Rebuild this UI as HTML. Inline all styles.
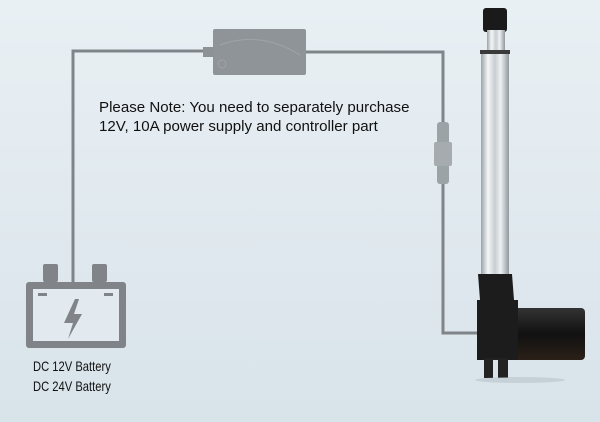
<!DOCTYPE html>
<html><head><style>
body{margin:0}
#c{position:relative;width:600px;height:422px;overflow:hidden;background:linear-gradient(180deg,#e9f0f4 0%,#dfe8ee 60%,#d8e3ea 100%);font-family:"Liberation Sans",sans-serif}
.t{position:absolute;left:99px;top:98px;font-size:15.1px;line-height:19px;color:#111}
.b{position:absolute;left:33px;font-family:"Liberation Sans Narrow","Liberation Sans",sans-serif;font-size:14px;color:#111;transform:scaleX(.8);transform-origin:left}
</style></head><body><div id="c">
<svg width="600" height="422" style="position:absolute;left:0;top:0">
<defs>
<linearGradient id="tube" x1="0" x2="1"><stop offset="0" stop-color="#9aa3a8"/><stop offset=".25" stop-color="#f4f6f7"/><stop offset=".5" stop-color="#c7cdd1"/><stop offset=".7" stop-color="#eef1f3"/><stop offset="1" stop-color="#8f989d"/></linearGradient>
<linearGradient id="mot" x1="0" y1="0" x2="0" y2="1"><stop offset="0" stop-color="#333"/><stop offset=".5" stop-color="#111"/><stop offset="1" stop-color="#2a2018"/></linearGradient>
</defs>
<g fill="none" stroke="#808589" stroke-width="3">
<path d="M73 282 V51 H213"/>
<path d="M306 52 H443 V333 H480"/>
</g>
<rect x="437" y="122" width="12" height="62" rx="3" fill="#9ca3a7"/>
<rect x="434" y="142" width="18" height="24" rx="2" fill="#a5abaf"/>
<rect x="203" y="47" width="12" height="10" fill="#8d9296"/>
<rect x="213" y="29" width="93" height="46" rx="2" fill="#8f9498"/>
<path d="M220 45 Q260 30 300 55" stroke="#9fa4a8" fill="none"/>
<circle cx="222" cy="64" r="4" fill="none" stroke="#9fa4a8"/>
<g fill="#808488">
<rect x="43" y="264" width="15" height="18" rx="2"/><rect x="92" y="264" width="15" height="18" rx="2"/>
<rect x="26" y="282" width="100" height="66" rx="3"/>
</g>
<rect x="33" y="289" width="86" height="52" fill="#e2eaef"/>
<rect x="38" y="293" width="9" height="3" fill="#808488"/><rect x="104" y="293" width="9" height="3" fill="#808488"/>
<path d="M75 299 L64 323 H73 L68 339 L82 314 H74 L79 299Z" fill="#808488"/>
<rect x="483" y="8" width="24" height="24" rx="3" fill="#1a1a1a"/>
<rect x="487" y="30" width="18" height="22" fill="url(#tube)"/>
<rect x="480" y="50" width="30" height="4" fill="#3a3a3a"/>
<rect x="481" y="54" width="28" height="222" fill="url(#tube)"/>
<rect x="513" y="308" width="72" height="52" rx="4" fill="url(#mot)"/>
<path d="M478 274 H512 L514 300 H518 V360 H477 V300 L480 300Z" fill="#1c1c1c"/>
<rect x="484" y="358" width="24" height="20" fill="#222"/>
<rect x="493" y="360" width="5" height="18" fill="#d8e2e8"/>
<ellipse cx="520" cy="380" rx="45" ry="3" fill="#b8c3ca" opacity=".6"/>
</svg>
<div class="t">Please Note: You need to separately purchase<br>12V, 10A power supply and controller part</div>
<div class="b" style="top:358px">DC 12V Battery</div>
<div class="b" style="top:378px">DC 24V Battery</div>
</div></body></html>
